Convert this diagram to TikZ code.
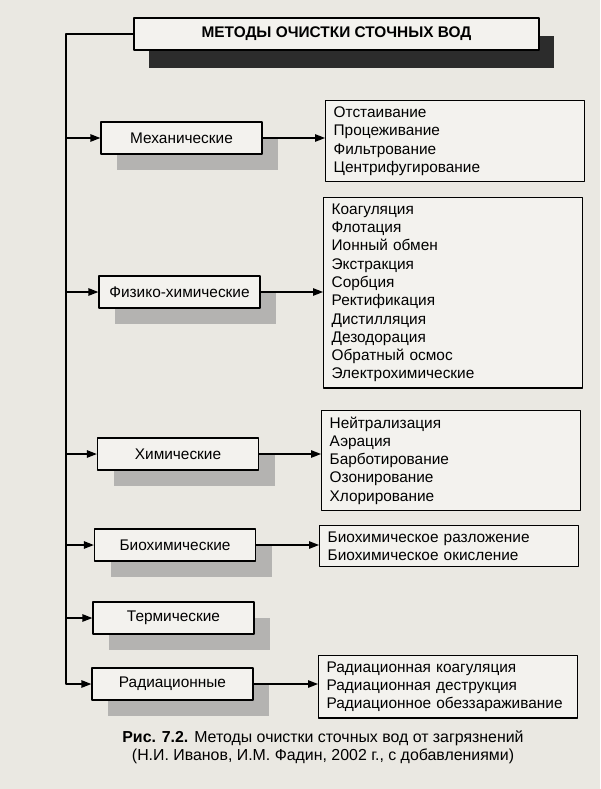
\documentclass[tikz,border=0pt]{standalone}
\usepackage{fontspec}
\setmainfont{Liberation Sans}
\usepackage{tikz}
\usetikzlibrary{arrows.meta,shadows}
\definecolor{paper}{RGB}{234,232,226}
\definecolor{boxfill}{RGB}{243,242,238}
\definecolor{shade}{RGB}{180,179,177}
\definecolor{darkshade}{RGB}{44,44,44}
\tikzset{
  every node/.style={font=\fontsize{15.4}{18.3}\selectfont},
  method/.style={draw, fill=boxfill, minimum width=161pt, minimum height=32pt, inner sep=0pt,
    drop shadow={shadow xshift=16pt, shadow yshift=-16pt, fill=shade, opacity=1}},
  listbox/.style={draw, fill=boxfill, anchor=north west, align=left, text width=243pt,
    inner xsep=8pt, inner ysep=6pt},
}
\begin{document}
\begin{tikzpicture}[line cap=round,line join=round,>={Triangle[length=10pt,width=7.5pt]},line width=1.3pt,x=1pt,y=-1pt]
                                      \fill[paper] (0,0) rectangle (600,789);
                                      \node[draw, fill=boxfill, minimum width=405pt, minimum height=32pt,
                                        drop shadow={shadow xshift=15pt, shadow yshift=-18pt, fill=darkshade, opacity=1}]
                                        (title) at (336.5,34) {\bfseries МЕТОДЫ ОЧИСТКИ СТОЧНЫХ ВОД};
                                      \node[method] (mech) at (181.5,138) {Механические};
                                      \node[method] (physchem) at (179.5,292) {Физико-химические};
                                      \node[method] (chem) at (178,454) {Химические};
                                      \node[method] (biochem) at (175,545) {Биохимические};
                                      \node[method] (therm) at (173.5,618) {Термические};
                                      \node[method] (rad) at (172.5,684) {Радиационные};
                                      \node[listbox] (mechlist) at (325,100) {Отстаивание\\Процеживание\\Фильтрование\\Центрифугирование};
                                      \node[listbox] (physlist) at (323,197) {Коагуляция\\Флотация\\Ионный обмен\\Экстракция\\Сорбция\\Ректификация\\Дистилляция\\Дезодорация\\Обратный осмос\\Электрохимические};
                                      \node[listbox] (chemlist) at (321,410) {Нейтрализация\\Аэрация\\Барботирование\\Озонирование\\Хлорирование};
                                      \node[listbox] (biolist) at (319,525) {Биохимическое разложение\\Биохимическое окисление};
                                      \node[listbox] (radlist) at (318,655) {Радиационная коагуляция\\Радиационная деструкция\\Радиационное обеззараживание};
                                      \coordinate (trunk) at (66,34);
                                      \draw [->] (title.west) -- (trunk) |- (rad.west);
                                      \foreach \m in {mech,physchem,chem,biochem,therm}
                                        \draw [->] (trunk |- \m.west) -- (\m.west);
                                      \foreach \m/\l in {mech/mechlist,physchem/physlist,chem/chemlist,biochem/biolist,rad/radlist}
                                        \draw [->] (\m.east) -- (\m.east -| \l.west);
                                      \node[align=center, font=\fontsize{15.9}{17.5}\selectfont] (caption) at (323,747)
                                        {\textbf{Рис. 7.2.} Методы очистки сточных вод от загрязнений\\(Н.И. Иванов, И.М. Фадин, 2002 г., с добавлениями)};
\end{tikzpicture}
\end{document}
